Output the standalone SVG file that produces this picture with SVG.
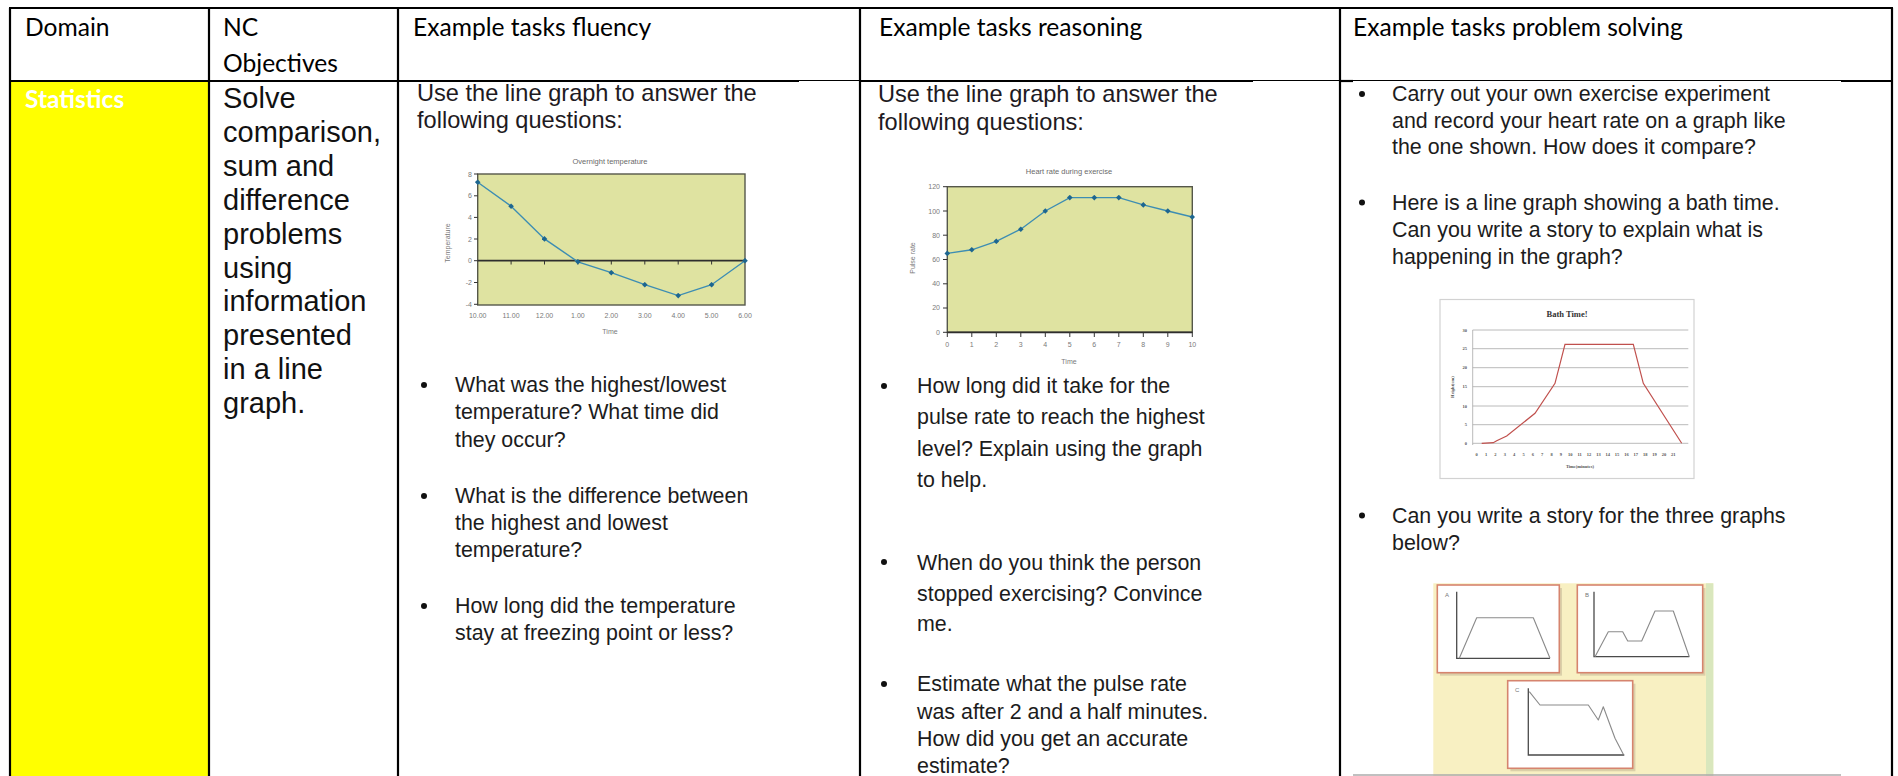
<svg xmlns="http://www.w3.org/2000/svg" width="1898" height="776" viewBox="0 0 1898 776">
  <style>
    .hdr { font-family: Lato, "Open Sans", "Liberation Sans", sans-serif; font-size: 24.6px; fill: #000; }
    .obj { font-family: "Liberation Sans", Arial, sans-serif; font-size: 29px; fill: #111; }
    .intro { font-family: "Liberation Sans", Arial, sans-serif; font-size: 23.6px; fill: #1e1a22; }
    .body { font-family: "Liberation Sans", Arial, sans-serif; font-size: 21.4px; fill: #1c1c1c; }
    .grid { stroke: #000; stroke-width: 2.2; fill: none; }
    .thin { stroke: #000; stroke-width: 1; fill: none; }
    .ax { font-family: "Liberation Sans", Arial, sans-serif; font-size: 7px; fill: #7a7a7a; }
    .axt { font-family: "Liberation Sans", Arial, sans-serif; font-size: 7.5px; fill: #6a6a6a; }
    .plot { fill: #dfe3a1; stroke: #55574a; stroke-width: 1.4; }
    .series { fill: none; stroke: #3d8db3; stroke-width: 1.4; marker-start: url(#dot); marker-mid: url(#dot); marker-end: url(#dot); }
    .tick { stroke: #333; stroke-width: 1; }
    .bath { font-family: "Liberation Serif", "Times New Roman", serif; font-size: 4.5px; fill: #555; font-weight: bold; }
    .bgrid { stroke: #a8a8a8; stroke-width: 0.8; }
    .card { fill: #fff; stroke: #d6846e; stroke-width: 1.6; }
    .shadow { fill: #b9a98c; opacity: 0.45; }
    .cax { fill: none; stroke: #4a4a4a; stroke-width: 1.3; }
    .cline { fill: none; stroke: #8a8a8a; stroke-width: 1.1; stroke-linejoin: round; }
    .clab { font-family: "Liberation Sans", Arial, sans-serif; font-size: 6px; fill: #777; }
  </style>
  <defs>
    <marker id="dot" viewBox="-3 -3 6 6" markerWidth="6" markerHeight="6" markerUnits="userSpaceOnUse" refX="0" refY="0">
      <path d="M0,-2.8 L2.8,0 L0,2.8 L-2.8,0 Z" fill="#1d6690"/>
    </marker>
  </defs>

  <rect width="1898" height="776" fill="#fff"/>

  <!-- Domain cell background -->
  <rect id="domain-fill" x="10" y="81" width="199" height="695" fill="#ffff00"/>

  <!-- header row -->
  <g id="header">
    <text class="hdr" x="25" y="36">Domain</text>
    <text class="hdr" x="223" y="36">NC</text>
    <text class="hdr" x="223" y="72">Objectives</text>
    <text class="hdr" x="413" y="36">Example tasks fluency</text>
    <text class="hdr" x="879" y="36">Example tasks reasoning</text>
    <text class="hdr" x="1353" y="36">Example tasks problem solving</text>
  </g>

  <!-- domain -->
  <g id="cell-domain">
    <text x="25" y="108" font-family="Lato, 'Open Sans', 'Liberation Sans', sans-serif" font-size="24.5" font-weight="bold" fill="#fff">Statistics</text>
  </g>

  <!-- objective -->
  <g id="cell-objective">
    <text class="obj">
      <tspan x="223" y="108">Solve</tspan>
      <tspan x="223" y="141.9">comparison,</tspan>
      <tspan x="223" y="175.8">sum and</tspan>
      <tspan x="223" y="209.7">difference</tspan>
      <tspan x="223" y="243.6">problems</tspan>
      <tspan x="223" y="277.5">using</tspan>
      <tspan x="223" y="311.4">information</tspan>
      <tspan x="223" y="345.3">presented</tspan>
      <tspan x="223" y="379.2">in a line</tspan>
      <tspan x="223" y="413.1">graph.</tspan>
    </text>
  </g>

  <!-- fluency tasks -->
  <g id="cell-fluency">
    <text class="intro">
      <tspan x="417" y="100.5">Use the line graph to answer the</tspan>
      <tspan x="417" y="128">following questions:</tspan>
    </text>

    <g id="chart-temperature">
      <text class="axt" x="610" y="163.5" text-anchor="middle">Overnight temperature</text>
      <rect class="plot" x="477.7" y="174" width="267.3" height="131"/>
      <g class="ax" text-anchor="end">
        <text x="472" y="176.5">8</text>
        <text x="472" y="198.3">6</text>
        <text x="472" y="220">4</text>
        <text x="472" y="241.5">2</text>
        <text x="472" y="263.2">0</text>
        <text x="472" y="285">-2</text>
        <text x="472" y="307">-4</text>
      </g>
      <g class="tick">
        <line x1="474" y1="174" x2="477.7" y2="174"/>
        <line x1="474" y1="195.8" x2="477.7" y2="195.8"/>
        <line x1="474" y1="217.4" x2="477.7" y2="217.4"/>
        <line x1="474" y1="239" x2="477.7" y2="239"/>
        <line x1="474" y1="260.7" x2="477.7" y2="260.7"/>
        <line x1="474" y1="282.5" x2="477.7" y2="282.5"/>
        <line x1="474" y1="304.3" x2="477.7" y2="304.3"/>
      </g>
      <line x1="477.7" y1="260.7" x2="745" y2="260.7" stroke="#2e2e2e" stroke-width="1.8"/>
      <g class="tick">
        <line x1="511.1" y1="260.7" x2="511.1" y2="264.5"/>
        <line x1="544.5" y1="260.7" x2="544.5" y2="264.5"/>
        <line x1="577.9" y1="260.7" x2="577.9" y2="264.5"/>
        <line x1="611.3" y1="260.7" x2="611.3" y2="264.5"/>
        <line x1="644.8" y1="260.7" x2="644.8" y2="264.5"/>
        <line x1="678.2" y1="260.7" x2="678.2" y2="264.5"/>
        <line x1="711.6" y1="260.7" x2="711.6" y2="264.5"/>
      </g>
      <polyline class="series" points="477.7,182.2 511.1,206.2 544.5,238.9 577.9,261.8 611.3,272.7 644.8,284.7 678.2,295.6 711.6,284.7 745,260.7"/>
      <g class="ax" text-anchor="middle" font-size="6.5">
        <text x="477.7" y="318">10.00</text>
        <text x="511.1" y="318">11.00</text>
        <text x="544.5" y="318">12.00</text>
        <text x="577.9" y="318">1.00</text>
        <text x="611.3" y="318">2.00</text>
        <text x="644.8" y="318">3.00</text>
        <text x="678.2" y="318">4.00</text>
        <text x="711.6" y="318">5.00</text>
        <text x="745" y="318">6.00</text>
      </g>
      <text class="ax" x="610" y="334" text-anchor="middle">Time</text>
      <text class="ax" font-size="6.5" transform="translate(450,243) rotate(-90)" text-anchor="middle">Temperature</text>
    </g>

    <g fill="#111">
      <circle cx="424" cy="385" r="3"/>
      <circle cx="424" cy="496" r="3"/>
      <circle cx="424" cy="606" r="3"/>
    </g>
    <text class="body">
      <tspan x="455" y="392">What was the highest/lowest</tspan>
      <tspan x="455" y="419.3">temperature? What time did</tspan>
      <tspan x="455" y="446.5">they occur?</tspan>
      <tspan x="455" y="503">What is the difference between</tspan>
      <tspan x="455" y="530">the highest and lowest</tspan>
      <tspan x="455" y="557">temperature?</tspan>
      <tspan x="455" y="613">How long did the temperature</tspan>
      <tspan x="455" y="640.3">stay at freezing point or less?</tspan>
    </text>
  </g>

  <!-- reasoning tasks -->
  <g id="cell-reasoning">
    <text class="intro">
      <tspan x="878" y="101.5">Use the line graph to answer the</tspan>
      <tspan x="878" y="129.5">following questions:</tspan>
    </text>

    <g id="chart-heart-rate">
      <text class="axt" x="1069" y="174" text-anchor="middle">Heart rate during exercise</text>
      <rect class="plot" x="947.3" y="186.7" width="245" height="145.6"/>
      <g class="ax" text-anchor="end">
        <text x="940" y="189.2">120</text>
        <text x="940" y="213.5">100</text>
        <text x="940" y="237.5">80</text>
        <text x="940" y="261.5">60</text>
        <text x="940" y="285.7">40</text>
        <text x="940" y="310">20</text>
        <text x="940" y="334.5">0</text>
      </g>
      <g class="tick">
        <line x1="943" y1="186.7" x2="947.3" y2="186.7"/>
        <line x1="943" y1="211" x2="947.3" y2="211"/>
        <line x1="943" y1="235.2" x2="947.3" y2="235.2"/>
        <line x1="943" y1="259.5" x2="947.3" y2="259.5"/>
        <line x1="943" y1="283.8" x2="947.3" y2="283.8"/>
        <line x1="943" y1="308" x2="947.3" y2="308"/>
        <line x1="943" y1="332.3" x2="947.3" y2="332.3"/>
      </g>
      <line x1="947.3" y1="332.3" x2="1192.3" y2="332.3" stroke="#2e2e2e" stroke-width="1.8"/>
      <g class="tick">
        <line x1="947.3" y1="332.3" x2="947.3" y2="337"/>
        <line x1="971.8" y1="332.3" x2="971.8" y2="337"/>
        <line x1="996.3" y1="332.3" x2="996.3" y2="337"/>
        <line x1="1020.8" y1="332.3" x2="1020.8" y2="337"/>
        <line x1="1045.3" y1="332.3" x2="1045.3" y2="337"/>
        <line x1="1069.8" y1="332.3" x2="1069.8" y2="337"/>
        <line x1="1094.3" y1="332.3" x2="1094.3" y2="337"/>
        <line x1="1118.8" y1="332.3" x2="1118.8" y2="337"/>
        <line x1="1143.3" y1="332.3" x2="1143.3" y2="337"/>
        <line x1="1167.8" y1="332.3" x2="1167.8" y2="337"/>
        <line x1="1192.3" y1="332.3" x2="1192.3" y2="337"/>
      </g>
      <polyline class="series" points="947.3,253.4 971.8,249.8 996.3,241.3 1020.8,229.2 1045.3,211 1069.8,197.6 1094.3,197.6 1118.8,197.6 1143.3,204.9 1167.8,211 1192.3,217"/>
      <g class="ax" text-anchor="middle">
        <text x="947.3" y="347">0</text>
        <text x="971.8" y="347">1</text>
        <text x="996.3" y="347">2</text>
        <text x="1020.8" y="347">3</text>
        <text x="1045.3" y="347">4</text>
        <text x="1069.8" y="347">5</text>
        <text x="1094.3" y="347">6</text>
        <text x="1118.8" y="347">7</text>
        <text x="1143.3" y="347">8</text>
        <text x="1167.8" y="347">9</text>
        <text x="1192.3" y="347">10</text>
      </g>
      <text class="ax" x="1069" y="364" text-anchor="middle">Time</text>
      <text class="ax" transform="translate(915,258) rotate(-90)" text-anchor="middle">Pulse rate</text>
    </g>

    <g fill="#111">
      <circle cx="884" cy="386" r="3"/>
      <circle cx="884" cy="562" r="3"/>
      <circle cx="884" cy="684" r="3"/>
    </g>
    <text class="body">
      <tspan x="917" y="393">How long did it take for the</tspan>
      <tspan x="917" y="424">pulse rate to reach the highest</tspan>
      <tspan x="917" y="456">level? Explain using the graph</tspan>
      <tspan x="917" y="487">to help.</tspan>
      <tspan x="917" y="569.5">When do you think the person</tspan>
      <tspan x="917" y="601">stopped exercising? Convince</tspan>
      <tspan x="917" y="631">me.</tspan>
      <tspan x="917" y="691">Estimate what the pulse rate</tspan>
      <tspan x="917" y="718.5">was after 2 and a half minutes.</tspan>
      <tspan x="917" y="746">How did you get an accurate</tspan>
      <tspan x="917" y="773">estimate?</tspan>
    </text>
  </g>

  <!-- problem solving tasks -->
  <g id="cell-problem">
    <g fill="#111">
      <circle cx="1362" cy="94" r="3"/>
      <circle cx="1362" cy="202.5" r="3"/>
      <circle cx="1362" cy="515.5" r="3"/>
    </g>
    <text class="body">
      <tspan x="1392" y="101">Carry out your own exercise experiment</tspan>
      <tspan x="1392" y="127.5">and record your heart rate on a graph like</tspan>
      <tspan x="1392" y="154">the one shown. How does it compare?</tspan>
      <tspan x="1392" y="209.5">Here is a line graph showing a bath time.</tspan>
      <tspan x="1392" y="236.5">Can you write a story to explain what is</tspan>
      <tspan x="1392" y="263.5">happening in the graph?</tspan>
      <tspan x="1392" y="523">Can you write a story for the three graphs</tspan>
      <tspan x="1392" y="550">below?</tspan>
    </text>

    <g id="chart-bath">
      <rect x="1440" y="299.5" width="254" height="179" fill="#fff" stroke="#d2d2d2" stroke-width="1.2"/>
      <text x="1567" y="317" font-family="'Liberation Serif', 'Times New Roman', serif" font-size="8.5" font-weight="bold" fill="#333" text-anchor="middle">Bath Time!</text>
      <g class="bgrid">
        <line x1="1472.7" y1="330" x2="1688.3" y2="330"/>
        <line x1="1472.7" y1="348.7" x2="1688.3" y2="348.7"/>
        <line x1="1472.7" y1="367.7" x2="1688.3" y2="367.7"/>
        <line x1="1472.7" y1="386.7" x2="1688.3" y2="386.7"/>
        <line x1="1472.7" y1="406" x2="1688.3" y2="406"/>
        <line x1="1472.7" y1="424.7" x2="1688.3" y2="424.7"/>
        <line x1="1472.7" y1="443.3" x2="1688.3" y2="443.3"/>
        <line x1="1472.7" y1="330" x2="1472.7" y2="445"/>
      </g>
      <g class="bath" text-anchor="end">
        <text x="1467" y="331.5">30</text>
        <text x="1467" y="350.2">25</text>
        <text x="1467" y="369.2">20</text>
        <text x="1467" y="388.2">15</text>
        <text x="1467" y="407.5">10</text>
        <text x="1467" y="426.2">5</text>
        <text x="1467" y="444.8">0</text>
      </g>
      <polyline points="1481.7,443.3 1493.3,442.7 1496.7,440.7 1506.7,436 1535,413.3 1555,383.3 1565,344.3 1633.3,344.3 1643.3,383.3 1681.7,443.3" fill="none" stroke="#c0504d" stroke-width="1.2"/>
      <g class="bath" text-anchor="middle" font-size="4">
        <text x="1476.7" y="455.5">0</text><text x="1486.1" y="455.5">1</text><text x="1495.4" y="455.5">2</text><text x="1504.8" y="455.5">3</text><text x="1514.1" y="455.5">4</text><text x="1523.5" y="455.5">5</text><text x="1532.9" y="455.5">6</text><text x="1542.2" y="455.5">7</text><text x="1551.6" y="455.5">8</text><text x="1560.9" y="455.5">9</text><text x="1570.3" y="455.5">10</text><text x="1579.7" y="455.5">11</text><text x="1589" y="455.5">12</text><text x="1598.4" y="455.5">13</text><text x="1607.7" y="455.5">14</text><text x="1617.1" y="455.5">15</text><text x="1626.5" y="455.5">16</text><text x="1635.8" y="455.5">17</text><text x="1645.2" y="455.5">18</text><text x="1654.5" y="455.5">19</text><text x="1663.9" y="455.5">20</text><text x="1673.3" y="455.5">21</text>
      </g>
      <text class="bath" x="1580" y="468" text-anchor="middle">Time(minutes)</text>
      <text class="bath" font-size="4" transform="translate(1454,387) rotate(-90)" text-anchor="middle">Height(cm)</text>
    </g>

    <g id="chart-three-stories">
      <rect x="1433.3" y="583.3" width="280" height="192.7" fill="#f8f0c2"/>
      <rect x="1706" y="583.3" width="7.3" height="192.7" fill="#d9e7bd"/>
      <!-- card A -->
      <rect class="shadow" x="1440" y="588" width="122" height="87.7"/>
      <rect class="card" x="1437.3" y="585" width="122" height="87.7"/>
      <text class="clab" x="1445" y="597">A</text>
      <polyline class="cax" points="1456.7,591.7 1456.7,658.3 1550,658.3"/>
      <polyline class="cline" points="1459.3,658.3 1476.7,617.7 1533.3,617.7 1550,658.3"/>
      <!-- card B -->
      <rect class="shadow" x="1580" y="588" width="125.4" height="87.7"/>
      <rect class="card" x="1577.3" y="585" width="125.4" height="87.7"/>
      <text class="clab" x="1585" y="597">B</text>
      <polyline class="cax" points="1594,591.7 1594,656.7 1689.3,656.7"/>
      <polyline class="cline" points="1595,656.7 1608.3,631.7 1622.7,631.7 1627.7,641 1641.7,641 1655,611 1673.3,611 1689.3,656.7"/>
      <!-- card C -->
      <rect class="shadow" x="1510.4" y="683.7" width="125" height="87.6"/>
      <rect class="card" x="1507.7" y="680.7" width="125" height="87.6"/>
      <text class="clab" x="1515" y="692">C</text>
      <polyline class="cax" points="1528.3,688.3 1528.3,755 1624.3,755"/>
      <polyline class="cline" points="1529.3,691.7 1540,705 1588.3,705 1598.3,720 1603.3,706.7 1615,738.3 1623.3,754.3"/>
    </g>
    <line x1="1353" y1="775" x2="1841" y2="775" stroke="#ababab" stroke-width="1.5"/>
  </g>

  <!-- table rules -->
  <g id="table-grid">
    <line class="grid" x1="9" y1="8" x2="1893" y2="8"/>
    <line class="grid" x1="10" y1="8" x2="10" y2="776"/>
    <line class="grid" x1="209" y1="8" x2="209" y2="776"/>
    <line class="grid" x1="398" y1="8" x2="398" y2="776"/>
    <line class="grid" x1="860" y1="8" x2="860" y2="776"/>
    <line class="grid" x1="1340" y1="8" x2="1340" y2="776"/>
    <line class="grid" x1="1892" y1="8" x2="1892" y2="776"/>
    <line class="grid" x1="10" y1="81" x2="799" y2="81"/>
    <line class="thin" x1="799" y1="80.5" x2="860" y2="80.5"/>
    <line class="grid" x1="860" y1="81" x2="1253" y2="81"/>
    <line class="thin" x1="1253" y1="80.5" x2="1340" y2="80.5"/>
    <line class="grid" x1="1340" y1="81" x2="1353" y2="81"/>
    <line class="thin" x1="1353" y1="80.5" x2="1841" y2="80.5"/>
    <line class="grid" x1="1841" y1="81" x2="1892" y2="81"/>
  </g>
</svg>
